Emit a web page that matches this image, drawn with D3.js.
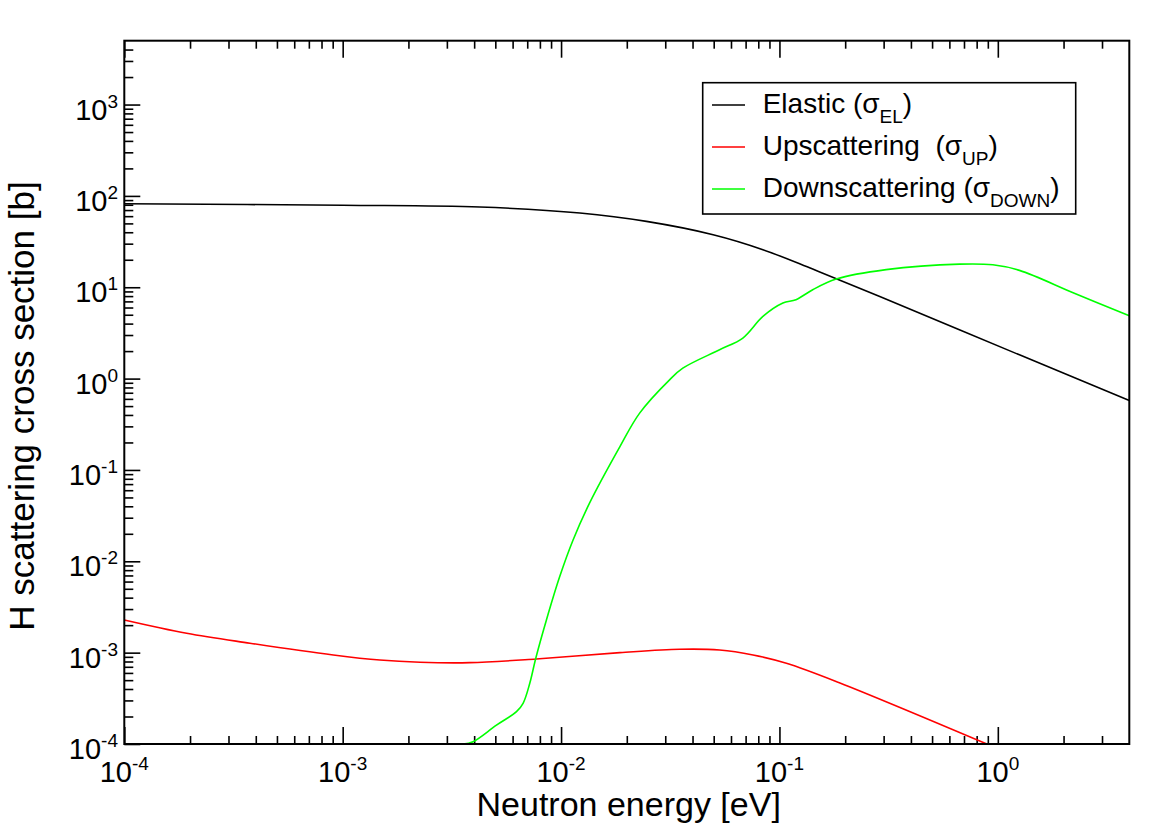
<!DOCTYPE html>
<html>
<head>
<meta charset="utf-8">
<script src="https://cdn.jsdelivr.net/npm/d3@7"></script>
<style>
  body { margin: 0; background: #fff; }
  text { font-family: "Liberation Sans", Arial, sans-serif; fill: #000; }
</style>
</head>
<body>
<div id="chart"></div>
<script>
// Chart size and plot frame
const width = 1170, height = 827;
const margin = { left: 124.3, right: 1129.3, top: 40.7, bottom: 744 };

// Elastic (sigma_EL)
const elasticE  = [1e-4, 1e-3, 4.25e-3, 0.0122, 0.0246, 0.0497, 0.084, 0.142, 0.288, 1.256, 4];
const elasticXS = [82, 79, 75.5, 65, 52.6, 37.6, 25.8, 15.8, 7.9, 1.82, 0.575];

// Upscattering (sigma_UP)
const upE  = [1e-4, 1.93e-4, 3.76e-4, 9.06e-4, 1.48e-3, 2.26e-3, 3.82e-3, 7.7e-3, 0.0186, 0.0349, 0.0532, 0.0757, 0.1076, 0.188, 0.891];
const upXS = [2.28e-3, 1.63e-3, 1.27e-3, 9.44e-4, 8.3e-4, 7.85e-4, 7.77e-4, 8.53e-4, 1.0e-3, 1.09e-3, 1.07e-3, 9.44e-4, 7.66e-4, 4.69e-4, 1e-4];

// Downscattering (sigma_DOWN)
const downE  = [3.56e-3, 3.95e-3, 5.06e-3, 6.25e-3, 6.7e-3, 7.19e-3, 7.66e-3, 8.57e-3, 9.86e-3, 0.01135, 0.0135, 0.0186, 0.0229, 0.0314, 0.0361, 0.0532, 0.068, 0.084, 0.1037, 0.119, 0.142, 0.182, 0.308, 0.668, 0.949, 1.256, 2.24, 4];
const downXS = [1e-4, 1.06e-4, 1.61e-4, 2.26e-4, 2.79e-4, 4.62e-4, 8.7e-4, 2.28e-3, 6.8e-3, 0.0171, 0.0433, 0.180, 0.419, 0.97, 1.30, 2.07, 2.78, 4.79, 6.71, 7.30, 9.4, 12.3, 15.6, 17.9, 17.6, 15.3, 8.6, 4.87];

// Tick exponents
const xExponents = [-4, -3, -2, -1, 0];
const yExponents = [-4, -3, -2, -1, 0, 1, 2, 3];

const series = [
    { name: "Elastic (", sub: "EL", color: "#000000", E: elasticE, XS: elasticXS },
    { name: "Upscattering\u00a0 (", sub: "UP", color: "#ff0000", E: upE, XS: upXS },
    { name: "Downscattering (", sub: "DOWN", color: "#00ff00", E: downE, XS: downXS }
];

const svg = d3.select("#chart")
    .append("svg")
    .attr("width", width)
    .attr("height", height);

const x = d3.scaleLog().domain([1e-4, 4]).range([margin.left, margin.right]);
const y = d3.scaleLog().domain([1e-4, 5000]).range([margin.bottom, margin.top]);

// minor tick values: 2..9 in every decade inside the domain
function minorTicks(scale) {
    const [lo, hi] = scale.domain();
    const out = [];
    for (let e = Math.floor(Math.log10(lo)); e <= Math.ceil(Math.log10(hi)); e++) {
        for (let m = 2; m <= 9; m++) {
            const v = m * Math.pow(10, e);
            if (v > lo && v < hi) out.push(v);
        }
    }
    return out;
}

function styleAxis(g) {
    g.select(".domain").remove();
    g.selectAll(".tick line").attr("stroke", "#000").attr("stroke-width", 1.6);
    g.selectAll(".tick text").remove();
}

const xMajor = xExponents.map(e => Math.pow(10, e));
const yMajor = yExponents.map(e => Math.pow(10, e));

// bottom ticks
svg.append("g").attr("transform", `translate(0,${margin.bottom})`)
    .call(d3.axisBottom(x).tickValues(xMajor).tickSize(-17).tickFormat("")).call(styleAxis);
svg.append("g").attr("transform", `translate(0,${margin.bottom})`)
    .call(d3.axisBottom(x).tickValues(minorTicks(x)).tickSize(-8).tickFormat("")).call(styleAxis);
// top ticks
svg.append("g").attr("transform", `translate(0,${margin.top})`)
    .call(d3.axisTop(x).tickValues(xMajor).tickSize(-17).tickFormat("")).call(styleAxis);
svg.append("g").attr("transform", `translate(0,${margin.top})`)
    .call(d3.axisTop(x).tickValues(minorTicks(x)).tickSize(-8).tickFormat("")).call(styleAxis);
// left ticks
svg.append("g").attr("transform", `translate(${margin.left},0)`)
    .call(d3.axisLeft(y).tickValues(yMajor).tickSize(-16).tickFormat("")).call(styleAxis);
svg.append("g").attr("transform", `translate(${margin.left},0)`)
    .call(d3.axisLeft(y).tickValues(minorTicks(y)).tickSize(-9).tickFormat("")).call(styleAxis);

// curves
const line = d3.line()
    .x(d => x(d[0]))
    .y(d => y(d[1]))
    .curve(d3.curveCatmullRom.alpha(0.5));

svg.append("defs").append("clipPath").attr("id", "plot-clip")
    .append("rect")
    .attr("x", margin.left).attr("y", margin.top)
    .attr("width", margin.right - margin.left)
    .attr("height", margin.bottom - margin.top);

svg.append("g").attr("clip-path", "url(#plot-clip)")
    .selectAll("path")
    .data(series)
    .join("path")
    .attr("d", s => line(s.E.map((e, i) => [e, s.XS[i]])))
    .attr("fill", "none")
    .attr("stroke", s => s.color)
    .attr("stroke-width", 1.6);

// frame
svg.append("rect")
    .attr("x", margin.left).attr("y", margin.top)
    .attr("width", margin.right - margin.left)
    .attr("height", margin.bottom - margin.top)
    .attr("fill", "none")
    .attr("stroke", "#000")
    .attr("stroke-width", 2);

// x tick labels
const xLab = svg.append("g").selectAll("text")
    .data(xExponents)
    .join("text")
    .attr("x", e => x(Math.pow(10, e)))
    .attr("y", 782)
    .attr("text-anchor", "middle")
    .attr("font-size", 29);
xLab.append("tspan").text("10");
xLab.append("tspan").attr("dy", -12).attr("font-size", 19).text(e => e);

// y tick labels
const yLab = svg.append("g").selectAll("text")
    .data(yExponents)
    .join("text")
    .attr("x", 118)
    .attr("y", e => y(Math.pow(10, e)) + 15)
    .attr("text-anchor", "end")
    .attr("font-size", 29);
yLab.append("tspan").text("10");
yLab.append("tspan").attr("dy", -12).attr("font-size", 19).text(e => e);

// axis titles
svg.append("text")
    .attr("x", 628.7)
    .attr("y", 816)
    .attr("text-anchor", "middle")
    .attr("font-size", 34)
    .text("Neutron energy [eV]");

svg.append("text")
    .attr("transform", "translate(34,406) rotate(-90)")
    .attr("text-anchor", "middle")
    .attr("font-size", 35)
    .text("H scattering cross section [b]");

// legend
const legend = svg.append("g");
legend.append("rect")
    .attr("x", 702.7).attr("y", 82.7)
    .attr("width", 373).attr("height", 131.3)
    .attr("fill", "#fff")
    .attr("stroke", "#000")
    .attr("stroke-width", 1.6);

const rows = legend.selectAll("g.row")
    .data(series)
    .join("g")
    .attr("class", "row")
    .attr("transform", (d, i) => `translate(0,${105 + i * 42})`);

rows.append("line")
    .attr("x1", 712).attr("x2", 745)
    .attr("y1", 0).attr("y2", 0)
    .attr("stroke", d => d.color)
    .attr("stroke-width", 1.6);

const lt = rows.append("text")
    .attr("x", 762.7)
    .attr("y", 8)
    .attr("font-size", 28);
lt.append("tspan").text(d => d.name + "\u03c3");
lt.append("tspan").attr("dy", 10).attr("font-size", 19).text(d => d.sub);
lt.append("tspan").attr("dy", -10).text(")");
</script>
</body>
</html>
